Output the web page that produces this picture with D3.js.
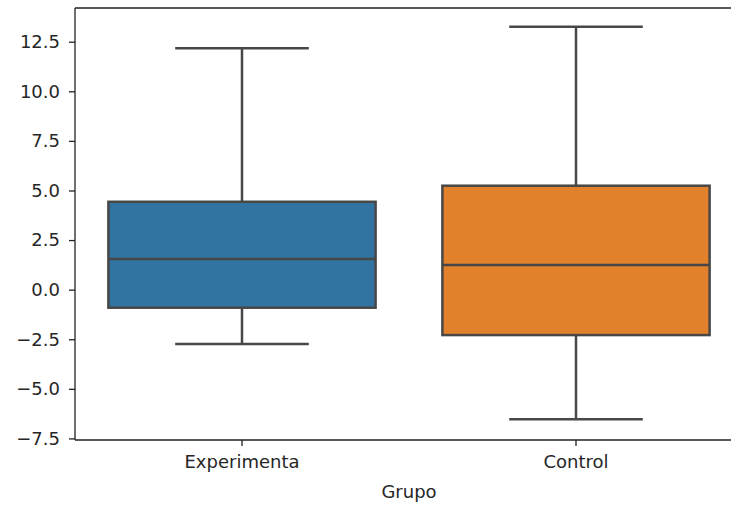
<!DOCTYPE html>
<html>
<head>
<meta charset="utf-8">
<script src="https://cdn.jsdelivr.net/npm/d3@7"></script>
<style>
  html, body { margin: 0; padding: 0; background: #fff; }
  svg { display: block; }
  text { font-family: "DejaVu Sans", sans-serif; fill: #262626; }
</style>
</head>
<body>
<div id="chart"></div>
<script>
// Box-plot summary for each group
const categories = ["Experimenta", "Control"];
const whiskerLow  = [-2.74, -6.54];
const q1          = [-0.91, -2.29];
const median      = [1.54, 1.24];
const q3          = [4.43, 5.24];
const whiskerHigh = [12.17, 13.26];
const boxColors   = ["#3274a1", "#e1812c"];
const yTicks      = [-7.5, -5.0, -2.5, 0.0, 2.5, 5.0, 7.5, 10.0, 12.5];
const xLabel      = "Grupo";

const W = 731, H = 505;
const margin = { left: 75, top: 8, right: -12, bottom: 65 };
const plotRight = W - margin.right;
const plotBottom = H - margin.bottom;

const svg = d3.select("#chart").append("svg")
  .attr("width", W).attr("height", H);

const x = d3.scaleBand()
  .domain(categories)
  .range([margin.left, plotRight])
  .padding(0);

const y = d3.scaleLinear()
  .domain([-7.58, 14.2])
  .range([plotBottom, margin.top]);

const lineColor = "#474747";
const lw = 2.5;
const boxW = x.bandwidth() * 0.8;

const groups = svg.append("g").selectAll("g")
  .data(categories.map((c, i) => ({ c, i })))
  .join("g");

// whiskers
groups.append("line")
  .attr("x1", d => x(d.c) + x.bandwidth() / 2)
  .attr("x2", d => x(d.c) + x.bandwidth() / 2)
  .attr("y1", d => y(q3[d.i])).attr("y2", d => y(whiskerHigh[d.i]))
  .attr("stroke", lineColor).attr("stroke-width", lw);
groups.append("line")
  .attr("x1", d => x(d.c) + x.bandwidth() / 2)
  .attr("x2", d => x(d.c) + x.bandwidth() / 2)
  .attr("y1", d => y(q1[d.i])).attr("y2", d => y(whiskerLow[d.i]))
  .attr("stroke", lineColor).attr("stroke-width", lw);

// caps
[whiskerHigh, whiskerLow].forEach(arr => {
  groups.append("line")
    .attr("x1", d => x(d.c) + x.bandwidth() / 2 - boxW / 4)
    .attr("x2", d => x(d.c) + x.bandwidth() / 2 + boxW / 4)
    .attr("y1", d => y(arr[d.i])).attr("y2", d => y(arr[d.i]))
    .attr("stroke", lineColor).attr("stroke-width", lw);
});

// boxes
groups.append("rect")
  .attr("x", d => x(d.c) + (x.bandwidth() - boxW) / 2)
  .attr("width", boxW)
  .attr("y", d => y(q3[d.i]))
  .attr("height", d => y(q1[d.i]) - y(q3[d.i]))
  .attr("fill", d => boxColors[d.i])
  .attr("stroke", lineColor).attr("stroke-width", lw);

// medians
groups.append("line")
  .attr("x1", d => x(d.c) + (x.bandwidth() - boxW) / 2)
  .attr("x2", d => x(d.c) + (x.bandwidth() + boxW) / 2)
  .attr("y1", d => y(median[d.i])).attr("y2", d => y(median[d.i]))
  .attr("stroke", lineColor).attr("stroke-width", lw);

// axes
const fontSize = "18px";
const yAxis = svg.append("g")
  .attr("transform", `translate(${margin.left},0)`)
  .call(d3.axisLeft(y).tickValues(yTicks).tickFormat(d3.format(".1f"))
    .tickSize(6).tickPadding(9).tickSizeOuter(0));
yAxis.select(".domain").remove();
yAxis.selectAll(".tick line").attr("stroke", "#222").attr("stroke-width", 1.3);
yAxis.selectAll(".tick text").attr("font-size", fontSize)
  .attr("font-family", "DejaVu Sans").attr("fill", "#262626")
  .text(d => d3.format(".1f")(d).replace("-", "\u2212"));

const xAxis = svg.append("g")
  .attr("transform", `translate(0,${plotBottom})`)
  .call(d3.axisBottom(x).tickSize(6).tickPadding(9).tickSizeOuter(0));
xAxis.select(".domain").remove();
xAxis.selectAll(".tick line").attr("stroke", "#222").attr("stroke-width", 1.3);
xAxis.selectAll(".tick text").attr("font-size", fontSize)
  .attr("font-family", "DejaVu Sans").attr("fill", "#262626");

// spines
const spines = svg.append("g").attr("stroke", "#222").attr("stroke-width", 1.3).attr("fill", "none");
spines.append("line").attr("x1", margin.left).attr("x2", margin.left)
  .attr("y1", margin.top).attr("y2", plotBottom);
spines.append("line").attr("x1", margin.left).attr("x2", plotRight)
  .attr("y1", plotBottom).attr("y2", plotBottom);
spines.append("line").attr("x1", margin.left).attr("x2", plotRight)
  .attr("y1", margin.top).attr("y2", margin.top);

// axis title
svg.append("text")
  .attr("x", (margin.left + plotRight) / 2)
  .attr("y", 498)
  .attr("text-anchor", "middle")
  .attr("font-size", fontSize)
  .text(xLabel);
</script>
</body>
</html>
